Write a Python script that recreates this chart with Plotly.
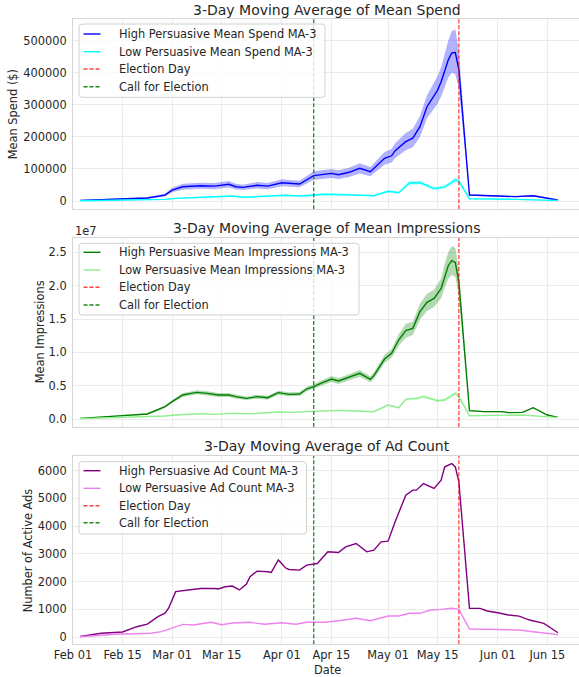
import plotly.graph_objects as go

# ---------------- data ----------------
ELECTION_DAY = "2022-05-21"
CALL_DAY = "2022-04-10"

spend_hi_dates = ["2022-02-03","2022-02-15","2022-02-22","2022-02-27","2022-03-01","2022-03-04","2022-03-09","2022-03-13","2022-03-17","2022-03-19","2022-03-21","2022-03-25","2022-03-28","2022-04-01","2022-04-06","2022-04-10","2022-04-15","2022-04-17","2022-04-20","2022-04-23","2022-04-26","2022-04-30","2022-05-02","2022-05-03","2022-05-06","2022-05-08","2022-05-10","2022-05-12","2022-05-15","2022-05-16","2022-05-18","2022-05-19","2022-05-20","2022-05-21","2022-05-24","2022-06-01","2022-06-06","2022-06-11","2022-06-14","2022-06-18"]
spend_hi = [2000,6000,9500,18500,34000,44500,47500,46500,52000,44500,42500,49000,46500,57000,53000,79000,86000,82000,89500,102000,91500,133000,141000,157000,185000,196000,232000,294000,346000,372000,440000,462000,463000,410000,18500,15500,13500,16500,10000,3000]
spend_hi_lo = [1000,4000,7000,14000,27000,35000,38000,37000,42000,36000,34000,39000,37000,46000,43000,66000,72000,69000,75000,86000,77000,113000,120000,134000,158000,168000,200000,258000,303000,326000,385000,400000,395000,350000,16000,13500,11500,14000,8500,2000]
spend_hi_up = [3000,8000,12000,23000,41000,54000,57000,56000,62000,54000,51000,59000,56000,68000,63000,93000,100000,96000,104000,118000,106000,153000,162000,180000,212000,225000,265000,330000,390000,418000,500000,530000,535000,470000,21000,17500,15500,19000,11500,4000]

spend_lo_dates = ["2022-02-03","2022-02-27","2022-03-02","2022-03-09","2022-03-15","2022-03-18","2022-03-21","2022-03-25","2022-04-02","2022-04-06","2022-04-10","2022-04-13","2022-04-19","2022-04-23","2022-04-27","2022-05-01","2022-05-04","2022-05-07","2022-05-10","2022-05-14","2022-05-17","2022-05-19","2022-05-20","2022-05-21","2022-05-24","2022-06-06","2022-06-18"]
spend_lo = [1000,5000,8300,11500,13400,15600,11500,13400,17700,15600,17700,21000,19500,18700,16500,30500,26000,56000,57500,38500,44000,58000,66000,62000,7000,5000,1500]
spend_lo_lo = [500,4000,6800,9500,11000,13000,9500,11000,15000,13000,15000,18000,16500,16000,14000,26500,22500,50000,51500,33500,38500,51000,58000,54000,6000,4200,1000]
spend_lo_up = [1500,6000,9800,13500,15800,18200,13500,15800,20400,18200,20400,24000,22500,21400,19000,34500,29500,62000,63500,43500,49500,65000,74000,70000,8000,5800,2000]

IMPR_UNIT = 1e7
impr_hi_dates = ["2022-02-03","2022-02-09","2022-02-15","2022-02-22","2022-02-25","2022-02-27","2022-03-01","2022-03-04","2022-03-06","2022-03-08","2022-03-11","2022-03-14","2022-03-17","2022-03-19","2022-03-22","2022-03-25","2022-03-28","2022-03-31","2022-04-03","2022-04-06","2022-04-08","2022-04-10","2022-04-12","2022-04-15","2022-04-17","2022-04-20","2022-04-23","2022-04-26","2022-04-27","2022-04-30","2022-05-02","2022-05-04","2022-05-06","2022-05-08","2022-05-10","2022-05-12","2022-05-14","2022-05-16","2022-05-17","2022-05-18","2022-05-19","2022-05-20","2022-05-21","2022-05-24","2022-05-28","2022-06-02","2022-06-04","2022-06-08","2022-06-11","2022-06-15","2022-06-18"]
impr_hi = [0.01,0.025,0.05,0.075,0.135,0.185,0.26,0.36,0.38,0.40,0.385,0.36,0.36,0.335,0.31,0.335,0.32,0.395,0.37,0.375,0.45,0.485,0.535,0.60,0.57,0.625,0.685,0.595,0.65,0.90,0.985,1.185,1.325,1.36,1.61,1.75,1.81,1.96,2.15,2.30,2.375,2.35,2.05,0.125,0.11,0.11,0.095,0.10,0.17,0.06,0.025]
impr_hi_lo = [0.005,0.02,0.04,0.065,0.12,0.17,0.24,0.33,0.35,0.37,0.355,0.33,0.33,0.305,0.285,0.305,0.29,0.365,0.34,0.345,0.415,0.45,0.495,0.555,0.525,0.58,0.635,0.55,0.60,0.84,0.92,1.10,1.22,1.26,1.49,1.62,1.68,1.81,1.97,2.10,2.16,2.13,1.85,0.115,0.10,0.10,0.085,0.09,0.16,0.055,0.02]
impr_hi_up = [0.015,0.03,0.06,0.085,0.15,0.20,0.28,0.39,0.41,0.43,0.415,0.39,0.39,0.365,0.335,0.365,0.35,0.425,0.40,0.405,0.485,0.52,0.575,0.645,0.615,0.67,0.735,0.64,0.70,0.96,1.05,1.27,1.43,1.46,1.73,1.88,1.94,2.11,2.33,2.50,2.59,2.57,2.25,0.135,0.12,0.12,0.105,0.11,0.18,0.065,0.03]

impr_lo_dates = ["2022-02-03","2022-02-22","2022-02-27","2022-03-02","2022-03-09","2022-03-13","2022-03-18","2022-03-24","2022-03-31","2022-04-03","2022-04-10","2022-04-17","2022-04-22","2022-04-27","2022-05-01","2022-05-04","2022-05-06","2022-05-09","2022-05-11","2022-05-15","2022-05-17","2022-05-20","2022-05-21","2022-05-24","2022-06-08","2022-06-18"]
impr_lo = [0.005,0.03,0.045,0.06,0.08,0.07,0.085,0.08,0.105,0.10,0.11,0.13,0.12,0.11,0.21,0.17,0.295,0.31,0.335,0.275,0.285,0.385,0.34,0.05,0.06,0.02]
impr_lo_lo = [0.003,0.025,0.04,0.053,0.072,0.063,0.077,0.072,0.095,0.09,0.10,0.12,0.11,0.10,0.195,0.155,0.275,0.29,0.31,0.25,0.26,0.355,0.31,0.045,0.055,0.017]
impr_lo_up = [0.007,0.035,0.05,0.067,0.088,0.077,0.093,0.088,0.115,0.11,0.12,0.14,0.13,0.12,0.225,0.185,0.315,0.33,0.36,0.30,0.31,0.415,0.37,0.055,0.065,0.023]

count_hi_dates = ["2022-02-03","2022-02-09","2022-02-15","2022-02-16","2022-02-19","2022-02-22","2022-02-25","2022-02-27","2022-02-28","2022-03-02","2022-03-05","2022-03-09","2022-03-13","2022-03-14","2022-03-16","2022-03-18","2022-03-20","2022-03-22","2022-03-23","2022-03-25","2022-03-28","2022-03-29","2022-03-31","2022-04-02","2022-04-03","2022-04-06","2022-04-08","2022-04-11","2022-04-14","2022-04-17","2022-04-19","2022-04-22","2022-04-25","2022-04-27","2022-04-29","2022-05-01","2022-05-03","2022-05-06","2022-05-08","2022-05-09","2022-05-11","2022-05-12","2022-05-14","2022-05-16","2022-05-17","2022-05-19","2022-05-20","2022-05-21","2022-05-24","2022-05-27","2022-05-29","2022-06-01","2022-06-04","2022-06-07","2022-06-10","2022-06-14","2022-06-16","2022-06-18"]
count_hi = [20,140,185,230,375,470,735,860,1040,1640,1700,1755,1755,1735,1815,1840,1700,1910,2180,2380,2355,2335,2780,2500,2440,2415,2595,2655,3075,3050,3255,3375,3075,3135,3435,3460,4160,5120,5300,5300,5540,5480,5360,5660,6140,6260,6140,5600,1035,1035,940,880,795,755,615,495,310,155]

count_lo_dates = ["2022-02-03","2022-02-13","2022-02-23","2022-02-26","2022-02-28","2022-03-03","2022-03-04","2022-03-07","2022-03-12","2022-03-15","2022-03-18","2022-03-23","2022-03-27","2022-04-01","2022-04-05","2022-04-08","2022-04-13","2022-04-17","2022-04-22","2022-04-26","2022-05-01","2022-05-04","2022-05-07","2022-05-10","2022-05-13","2022-05-16","2022-05-19","2022-05-21","2022-05-24","2022-05-29","2022-06-07","2022-06-11","2022-06-15","2022-06-18"]
count_lo = [15,100,140,195,280,435,460,436,534,447,510,534,461,519,461,534,534,590,678,590,760,760,858,858,977,1000,1038,1001,290,285,256,195,137,90]

x_tick_dates = ["2022-02-01","2022-02-15","2022-03-01","2022-03-15","2022-04-01","2022-04-15","2022-05-01","2022-05-15","2022-06-01","2022-06-15"]
x_tick_labels = ["Feb 01","Feb 15","Mar 01","Mar 15","Apr 01","Apr 15","May 01","May 15","Jun 01","Jun 15"]
spend_ticks = [0,100000,200000,300000,400000,500000]
spend_tick_labels = ["0","100000","200000","300000","400000","500000"]
impr_ticks = [0.0,0.5,1.0,1.5,2.0,2.5]
impr_tick_labels = ["0.0","0.5","1.0","1.5","2.0","2.5"]
count_ticks = [0,1000,2000,3000,4000,5000,6000]
count_tick_labels = ["0","1000","2000","3000","4000","5000","6000"]

# ---------------- figure ----------------
W, H = 579, 677
FONT = "DejaVu Sans"
TXT = "#262626"
GRID = "#ebebeb"
EDGE = "#d6d6d6"
LW = 1.4
RED = "rgba(255,0,0,0.75)"
GREEN_V = "rgba(0,128,0,0.9)"
DASH = "4px,2px"

impr_hi_v = [v * IMPR_UNIT for v in impr_hi]
impr_hi_lo_v = [v * IMPR_UNIT for v in impr_hi_lo]
impr_hi_up_v = [v * IMPR_UNIT for v in impr_hi_up]
impr_lo_v = [v * IMPR_UNIT for v in impr_lo]
impr_lo_lo_v = [v * IMPR_UNIT for v in impr_lo_lo]
impr_lo_up_v = [v * IMPR_UNIT for v in impr_lo_up]

y_ranges = {
    "y": [-25900, 567700],
    "y2": [-0.12 * IMPR_UNIT, 2.72 * IMPR_UNIT],
    "y3": [-260, 6543],
}

fig = go.Figure()


def band(xs, lo, up, color, xa, ya):
    fig.add_trace(go.Scatter(
        x=list(xs) + list(xs)[::-1], y=list(up) + list(lo)[::-1],
        fill="toself", fillcolor=color, line=dict(width=0),
        mode="lines", hoverinfo="skip", showlegend=False, xaxis=xa, yaxis=ya))


def line(xs, ys, color, xa, ya):
    fig.add_trace(go.Scatter(
        x=xs, y=ys, mode="lines", line=dict(color=color, width=LW),
        showlegend=False, xaxis=xa, yaxis=ya))


def vlines(xa, ya):
    r = y_ranges[ya]
    fig.add_trace(go.Scatter(x=[ELECTION_DAY, ELECTION_DAY], y=r, mode="lines",
                             line=dict(color=RED, width=1.3, dash=DASH),
                             showlegend=False, xaxis=xa, yaxis=ya))
    fig.add_trace(go.Scatter(x=[CALL_DAY, CALL_DAY], y=r, mode="lines",
                             line=dict(color=GREEN_V, width=1.3, dash=DASH),
                             showlegend=False, xaxis=xa, yaxis=ya))


# top: spend
band(spend_hi_dates, spend_hi_lo, spend_hi_up, "rgba(0,0,255,0.3)", "x", "y")
band(spend_lo_dates, spend_lo_lo, spend_lo_up, "rgba(0,255,255,0.3)", "x", "y")
line(spend_hi_dates, spend_hi, "blue", "x", "y")
line(spend_lo_dates, spend_lo, "cyan", "x", "y")
vlines("x", "y")

# middle: impressions
band(impr_hi_dates, impr_hi_lo_v, impr_hi_up_v, "rgba(0,128,0,0.3)", "x2", "y2")
band(impr_lo_dates, impr_lo_lo_v, impr_lo_up_v, "rgba(144,238,144,0.3)", "x2", "y2")
line(impr_hi_dates, impr_hi_v, "green", "x2", "y2")
line(impr_lo_dates, impr_lo_v, "lightgreen", "x2", "y2")
vlines("x2", "y2")

# bottom: ad count
line(count_hi_dates, count_hi, "purple", "x3", "y3")
line(count_lo_dates, count_lo, "violet", "x3", "y3")
vlines("x3", "y3")

X0 = 73 / W
x_range = ["2022-02-01", "2022-06-23 22:30"]
tickfont = dict(family=FONT, size=11.4, color=TXT)


def xaxis(show_labels, anchor):
    return dict(domain=[X0, 1.0], range=x_range, type="date", anchor=anchor, automargin=False,
                tickvals=x_tick_dates, ticktext=x_tick_labels,
                showticklabels=show_labels, tickfont=tickfont, ticks="",
                showgrid=True, gridcolor=GRID, gridwidth=1, zeroline=False,
                showline=True, mirror=True, linecolor=EDGE, linewidth=1)


def yaxis(dom, rng, tv, tt, anchor):
    return dict(domain=dom, range=rng, anchor=anchor, automargin=False, tickvals=tv, ticktext=tt,
                tickfont=tickfont, ticks="outside", ticklen=3, tickcolor="rgba(0,0,0,0)",
                showgrid=True, gridcolor=GRID, gridwidth=1, zeroline=False,
                showline=True, mirror=False, linecolor=EDGE, linewidth=1)


def px_x(px):
    return px / W


def px_y(py):
    return 1 - py / H


fig.update_layout(
    width=W, height=H, margin=dict(l=0, r=0, t=0, b=0, pad=0, autoexpand=False),
    paper_bgcolor="white", plot_bgcolor="white", showlegend=False,
    font=dict(family=FONT, color=TXT),
    xaxis=xaxis(False, "y"),
    xaxis2=xaxis(False, "y2"),
    xaxis3=xaxis(True, "y3"),
    yaxis=yaxis([px_y(209.3), px_y(19)], y_ranges["y"], spend_ticks, spend_tick_labels, "x"),
    yaxis2=yaxis([px_y(427), px_y(237.7)], y_ranges["y2"], [v * IMPR_UNIT for v in impr_ticks], impr_tick_labels, "x2"),
    yaxis3=yaxis([px_y(644.3), px_y(455.7)], y_ranges["y3"], count_ticks, count_tick_labels, "x3"),
    hovermode=False,
)

title_font = dict(family=FONT, size=14.0, color=TXT)
label_font = dict(family=FONT, size=11.4, color=TXT)
TX = 327 / W
annos = [
    dict(text="3-Day Moving Average of Mean Spend", x=TX, y=px_y(10), font=title_font),
    dict(text="3-Day Moving Average of Mean Impressions", x=TX, y=px_y(228.3), font=title_font),
    dict(text="3-Day Moving Average of Ad Count", x=TX, y=px_y(446), font=title_font),
    dict(text="Mean Spend ($)", x=13.3 / W, y=px_y(114), font=label_font, textangle=-90),
    dict(text="Mean Impressions", x=40 / W, y=px_y(332.3), font=label_font, textangle=-90),
    dict(text="Number of Active Ads", x=28.3 / W, y=px_y(550), font=label_font, textangle=-90),
    dict(text="Date", x=TX, y=px_y(669.5), font=label_font),
]
for a in annos:
    fig.add_annotation(xref="paper", yref="paper", xanchor="center", yanchor="middle",
                       showarrow=False, **a)
fig.add_annotation(text="1e7", xref="paper", yref="paper", x=73 / W, y=px_y(231),
                   xanchor="left", yanchor="middle", showarrow=False, font=label_font)

# ---------------- legends (drawn as boxes + samples + text) ----------------
legend_items = {
    "top": [("High Persuasive Mean Spend MA-3", "blue", "solid"),
            ("Low Persuasive Mean Spend MA-3", "cyan", "solid"),
            ("Election Day", RED, DASH),
            ("Call for Election", GREEN_V, DASH)],
    "mid": [("High Persuasive Mean Impressions MA-3", "green", "solid"),
            ("Low Persuasive Mean Impressions MA-3", "lightgreen", "solid"),
            ("Election Day", RED, DASH),
            ("Call for Election", GREEN_V, DASH)],
    "bot": [("High Persuasive Ad Count MA-3", "purple", "solid"),
            ("Low Persuasive Ad Count MA-3", "violet", "solid"),
            ("Election Day", RED, DASH),
            ("Call for Election", GREEN_V, DASH)],
}
legend_boxes = {  # left, top, right, bottom (pixels), item rows
    "top": (79, 24, 325, 97.3, [34, 51.7, 69, 86.7]),
    "mid": (79, 243.3, 359, 315, [252.3, 270, 287.3, 305]),
    "bot": (79, 461.7, 306.5, 534, [470.7, 488.3, 505.7, 522.7]),
}


def rrect_path(x0, y0, x1, y1, r):
    X, Y = px_x, px_y
    return (f"M {X(x0 + r)},{Y(y0)} L {X(x1 - r)},{Y(y0)} Q {X(x1)},{Y(y0)} {X(x1)},{Y(y0 + r)} "
            f"L {X(x1)},{Y(y1 - r)} Q {X(x1)},{Y(y1)} {X(x1 - r)},{Y(y1)} "
            f"L {X(x0 + r)},{Y(y1)} Q {X(x0)},{Y(y1)} {X(x0)},{Y(y1 - r)} "
            f"L {X(x0)},{Y(y0 + r)} Q {X(x0)},{Y(y0)} {X(x0 + r)},{Y(y0)} Z")


for key, (l, t, rgt, b, rows) in legend_boxes.items():
    fig.add_shape(type="path", path=rrect_path(l, t, rgt, b, 3), xref="paper", yref="paper",
                  fillcolor="rgba(255,255,255,0.8)", line=dict(color="#d0d0d0", width=1),
                  layer="above")
    for (label, color, dash), ry in zip(legend_items[key], rows):
        fig.add_shape(type="line", xref="paper", yref="paper",
                      x0=px_x(l + 4.5), x1=px_x(l + 21.5), y0=px_y(ry), y1=px_y(ry),
                      line=dict(color=color, width=LW, dash=dash), layer="above")
        fig.add_annotation(text=label, xref="paper", yref="paper", x=px_x(l + 38), y=px_y(ry),
                           xanchor="left", yanchor="middle", showarrow=False, font=label_font)

fig.write_html("out.html", config={"displayModeBar": False},
               post_script="document.body.style.margin='0px';")
